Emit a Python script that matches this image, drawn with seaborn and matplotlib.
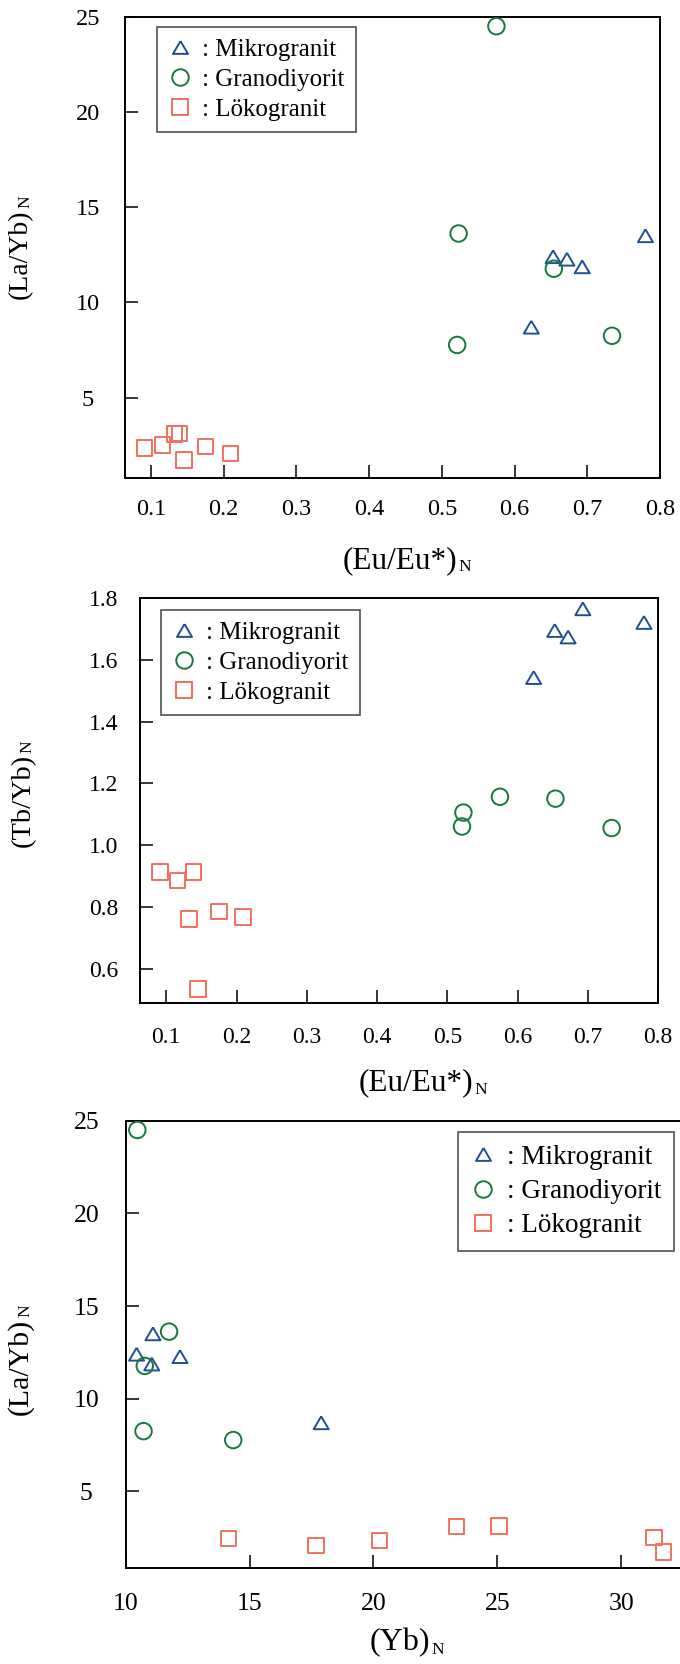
import matplotlib
matplotlib.use("Agg")
import matplotlib.pyplot as plt
from matplotlib.lines import Line2D
from matplotlib.ticker import FormatStrFormatter
import numpy as np
import pandas as pd
import seaborn as sns

# ---- data -------------------------------------------------------------
groups = ["Mikrogranit", "Granodiyorit", "Lökogranit"]

mik_eu = [0.623, 0.653, 0.672, 0.693, 0.780]
mik_layb = [8.70, 12.40, 12.27, 11.87, 13.50]
mik_tbyb = [1.542, 1.694, 1.673, 1.764, 1.720]
mik_yb = [17.89, 10.44, 12.19, 11.05, 11.10]

gra_eu = [0.575, 0.523, 0.654, 0.521, 0.734]
gra_layb = [24.50, 13.62, 11.77, 7.77, 8.25]
gra_tbyb = [1.157, 1.106, 1.151, 1.061, 1.056]
gra_yb = [10.47, 11.75, 10.77, 14.34, 10.72]

lok_eu = [0.091, 0.116, 0.132, 0.139, 0.145, 0.175, 0.209]
lok_layb = [2.36, 2.52, 3.10, 3.13, 1.72, 2.45, 2.07]
lok_tbyb = [0.914, 0.887, 0.762, 0.914, 0.537, 0.787, 0.768]
lok_yb = [20.24, 31.33, 23.35, 25.07, 31.71, 14.15, 17.68]

eu_ticks = [0.1, 0.2, 0.3, 0.4, 0.5, 0.6, 0.7, 0.8]
layb_ticks = [5, 10, 15, 20, 25]
tbyb_ticks = [0.6, 0.8, 1.0, 1.2, 1.4, 1.6, 1.8]
yb_ticks = [10, 15, 20, 25, 30]

df = pd.concat([
    pd.DataFrame({"grup": groups[0], "eu": mik_eu, "layb": mik_layb, "tbyb": mik_tbyb, "yb": mik_yb}),
    pd.DataFrame({"grup": groups[1], "eu": gra_eu, "layb": gra_layb, "tbyb": gra_tbyb, "yb": gra_yb}),
    pd.DataFrame({"grup": groups[2], "eu": lok_eu, "layb": lok_layb, "tbyb": lok_tbyb, "yb": lok_yb}),
], ignore_index=True)

# ---- style ------------------------------------------------------------
sns.set_theme(style="ticks")
plt.rcParams["font.family"] = ["Liberation Serif", "DejaVu Serif"]
plt.rcParams.update({
    "text.color": "black",
    "axes.labelcolor": "black",
    "axes.edgecolor": "black",
    "axes.linewidth": 1.4,
    "xtick.color": "black",
    "ytick.color": "black",
})

tri = [(0, 0.85), (-1, -0.85), (1, -0.85), (0, 0.85)]
style = {
    "Mikrogranit": dict(color="#1f4f94", marker=tri, s=117),
    "Granodiyorit": dict(color="#16793c", marker="o", s=141),
    "Lökogranit": dict(color="#f26f5f", marker="s", s=125),
}

fig = plt.figure(figsize=(6.8, 16.64), dpi=100)
W, H = 680.0, 1664.0


def axes_px(left, top, right, bottom):
    return fig.add_axes([left / W, 1 - bottom / H, (right - left) / W, (bottom - top) / H])


def draw_points(ax, xcol, ycol):
    for g in groups:
        st = style[g]
        sns.scatterplot(data=df[df["grup"] == g], x=xcol, y=ycol, ax=ax,
                        marker=st["marker"], s=st["s"], color=st["color"],
                        facecolors="none", edgecolor=st["color"],
                        linewidth=1.4, legend=False, zorder=3)


def add_legend(ax, anchor, fsize, spacing):
    handles = [Line2D([], [], linestyle="none", marker=style[g]["marker"],
                      markersize=np.sqrt(style[g]["s"]), markerfacecolor="none",
                      markeredgecolor=style[g]["color"], markeredgewidth=1.4)
               for g in groups]
    leg = ax.legend(handles, [": " + g for g in groups], loc="upper left",
                    bbox_to_anchor=anchor, borderaxespad=0, fontsize=fsize,
                    frameon=True, fancybox=False, framealpha=1,
                    handlelength=0.95, handletextpad=0.4, borderpad=0.45,
                    labelspacing=spacing)
    fr = leg.get_frame()
    fr.set_edgecolor("#505050")
    fr.set_linewidth(1.2)


def finish(ax, xlim, ylim, xt, yt, xfmt, yfmt, tick_fs, xpad, ypad):
    ax.set_xlim(*xlim)
    ax.set_ylim(*ylim)
    ax.set_xticks(xt)
    ax.set_yticks(yt)
    ax.xaxis.set_major_formatter(FormatStrFormatter(xfmt))
    ax.yaxis.set_major_formatter(FormatStrFormatter(yfmt))
    ax.tick_params(direction="in", length=9.7, width=1.1, labelsize=tick_fs,
                   top=False, right=False, bottom=True, left=True)
    ax.tick_params(axis="x", pad=xpad)
    ax.tick_params(axis="y", pad=ypad)
    plt.setp(ax.get_yticklabels(), ha="center")
    for sp in ax.spines.values():
        sp.set_visible(True)
        sp.set_linewidth(1.4)
        sp.set_color("black")


def set_labels(ax, xtxt, ytxt, xfs, yfs, xcoords, ycoords, subfs=12.5):
    ax.set_xlabel(xtxt, fontsize=xfs)
    ax.xaxis.set_label_coords(*xcoords)
    ax.annotate("N", xy=(1, 0), xycoords=ax.xaxis.label, xytext=(1, 2.5),
                textcoords="offset points", ha="left", va="baseline", fontsize=subfs)
    ax.set_ylabel(ytxt, fontsize=yfs)
    ax.yaxis.set_label_coords(*ycoords)
    ax.annotate("N", xy=(1, 1), xycoords=ax.yaxis.label, xytext=(0, 1),
                textcoords="offset points", ha="right", va="bottom",
                rotation=90, fontsize=subfs)


# ---- (La/Yb)N vs (Eu/Eu*)N -------------------------------------------
ax1 = axes_px(125, 16.7, 660, 477.7)
draw_points(ax1, "eu", "layb")
finish(ax1, (0.0642, 0.8), (0.8, 25), eu_ticks, layb_ticks, "%.1f", "%d", 17.5, 15.3, 26.6)
set_labels(ax1, "(Eu/Eu*)", "(La/Yb)", 22.5, 20, (0.514, -0.148), (-0.172, 0.485))
add_legend(ax1, (0.06, 0.977), 18, 0.3)

# ---- (Tb/Yb)N vs (Eu/Eu*)N -------------------------------------------
ax2 = axes_px(140, 597.7, 658, 1003.3)
draw_points(ax2, "eu", "tbyb")
finish(ax2, (0.0626, 0.8), (0.49, 1.8), eu_ticks, tbyb_ticks, "%.1f", "%.1f", 17, 16.8, 26.3)
set_labels(ax2, "(Eu/Eu*)", "(Tb/Yb)", 22.5, 20.5, (0.532, -0.161), (-0.201, 0.499))
add_legend(ax2, (0.041, 0.969), 18, 0.3)

# ---- (La/Yb)N vs (Yb)N -----------------------------------------------
ax3 = axes_px(125.7, 1120.7, 700, 1568.3)
draw_points(ax3, "yb", "layb")
finish(ax3, (10, 33.18), (0.85, 25), yb_ticks, layb_ticks, "%d", "%d", 18.5, 17.5, 28.4)
set_labels(ax3, "(Yb)", "(La/Yb)", 23, 21.5, (0.477, -0.134), (-0.160, 0.451))
add_legend(ax3, (0.579, 0.974), 19.5, 0.35)

fig.savefig("out.png", dpi=100)
